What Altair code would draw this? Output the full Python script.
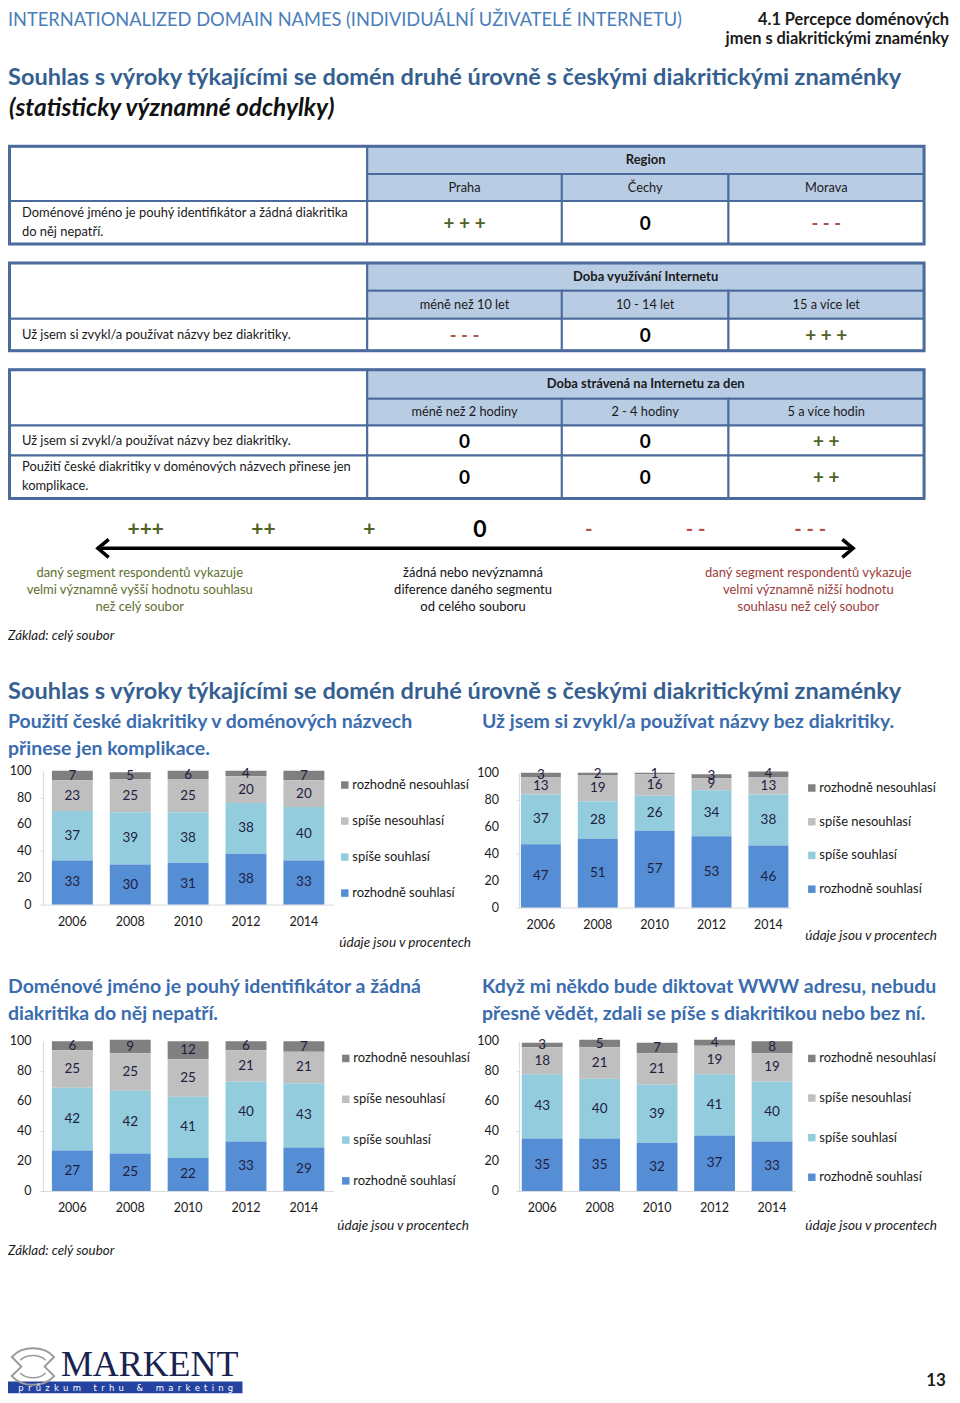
import altair as alt
import pandas as pd

FONT = "Lato"
TITLE_BLUE = "#365f91"
SUB_BLUE = "#3a6cae"
HEAD_BLUE = "#4a7ebb"
GREEN = "#4f6228"
RED = "#b4504a"
NOTE_GREEN = "#5e6f2f"
NOTE_RED = "#9b3d3a"
GRID = "#4a6b9c"
HEAD_FILL = "#b8cce4"

# ---------------- data ----------------
page_header = "INTERNATIONALIZED DOMAIN NAMES (INDIVIDUÁLNÍ UŽIVATELÉ INTERNETU)"
chapter = ["4.1 Percepce doménových", "jmen s diakritickými znaménky"]
main_title = "Souhlas s výroky týkajícími se domén druhé úrovně s českými diakritickými znaménky"
sub_title = "(statisticky významné odchylky)"
base_note = "Základ: celý soubor"
unit_note = "údaje jsou v procentech"
page_number = "13"

t1_group = "Region"
t1_columns = ["Praha", "Čechy", "Morava"]
t1_rows = [["Doménové jméno je pouhý identifikátor a žádná diakritika", "do něj nepatří."]]
t1_values = [["+ + +", "0", "- - -"]]

t2_group = "Doba využívání Internetu"
t2_columns = ["méně než 10 let", "10 - 14 let", "15 a více let"]
t2_rows = [["Už jsem si zvykl/a používat názvy bez diakritiky."]]
t2_values = [["- - -", "0", "+ + +"]]

t3_group = "Doba strávená na Internetu za den"
t3_columns = ["méně než 2 hodiny", "2 - 4 hodiny", "5 a více hodin"]
t3_rows = [["Už jsem si zvykl/a používat názvy bez diakritiky."],
           ["Použití české diakritiky v doménových názvech přinese jen", "komplikace."]]
t3_values = [["0", "0", "+ +"], ["0", "0", "+ +"]]

scale_symbols = ["+++", "++", "+", "0", "-", "- -", "- - -"]
scale_note_plus = ["daný segment respondentů vykazuje", "velmi významně vyšší hodnotu souhlasu", "než celý soubor"]
scale_note_zero = ["žádná nebo nevýznamná", "diference daného segmentu", "od celého souboru"]
scale_note_minus = ["daný segment respondentů vykazuje", "velmi významně nižší hodnotu", "souhlasu než celý soubor"]

years = ["2006", "2008", "2010", "2012", "2014"]
answers = ["rozhodně nesouhlasí", "spíše nesouhlasí", "spíše souhlasí", "rozhodně souhlasí"]
answer_colors = ["#808080", "#bfbfbf", "#93cddd", "#558ed5"]
y_ticks = [0, 20, 40, 60, 80, 100]

q1_title = ["Použití české diakritiky v doménových názvech", "přinese jen komplikace."]
q1_rozhodne_nesouhlasi = [7, 5, 6, 4, 7]
q1_spise_nesouhlasi = [23, 25, 25, 20, 20]
q1_spise_souhlasi = [37, 39, 38, 38, 40]
q1_rozhodne_souhlasi = [33, 30, 31, 38, 33]

q2_title = ["Už jsem si zvykl/a používat názvy bez diakritiky."]
q2_rozhodne_nesouhlasi = [3, 2, 1, 3, 4]
q2_spise_nesouhlasi = [13, 19, 16, 9, 13]
q2_spise_souhlasi = [37, 28, 26, 34, 38]
q2_rozhodne_souhlasi = [47, 51, 57, 53, 46]

q3_title = ["Doménové jméno je pouhý identifikátor a žádná", "diakritika do něj nepatří."]
q3_rozhodne_nesouhlasi = [6, 9, 12, 6, 7]
q3_spise_nesouhlasi = [25, 25, 25, 21, 21]
q3_spise_souhlasi = [42, 42, 41, 40, 43]
q3_rozhodne_souhlasi = [27, 25, 22, 33, 29]

q4_title = ["Když mi někdo bude diktovat WWW adresu, nebudu",
            "přesně vědět, zdali se píše s diakritikou nebo bez ní."]
q4_rozhodne_nesouhlasi = [3, 5, 7, 4, 8]
q4_spise_nesouhlasi = [18, 21, 21, 19, 19]
q4_spise_souhlasi = [43, 40, 39, 41, 40]
q4_rozhodne_souhlasi = [35, 35, 32, 37, 33]

logo_name = "MARKENT"
logo_tag = "průzkum trhu & marketing"


# ---------------- layout helpers (page pixel canvas) ----------------
def T(x, y, text, size=12, color="#1a1a1a", weight="normal", style="normal", align="left", font=FONT,
      clip=True):
    return dict(x=x, y=y, text=text, size=size, color=color, weight=weight, style=style, align=align,
                font=font, clip=clip)


def canvas(y0, y1, texts, rects=(), borders=(), rules=(), symbols=()):
    X = alt.X("x:Q", scale=alt.Scale(domain=[8, 952], nice=False, zero=False), axis=None)
    Y = alt.Y("y:Q", scale=alt.Scale(domain=[y0, y1], nice=False, zero=False, reverse=True), axis=None)
    layers = []
    if rects:
        layers.append(alt.Chart(pd.DataFrame(list(rects))).mark_rect(clip=True).encode(
            x=X, x2=alt.X2("x2:Q"), y=Y, y2=alt.Y2("y2:Q"),
            fill=alt.Fill("fill:N", scale=None), stroke=alt.Stroke("stroke:N", scale=None),
            strokeWidth=alt.StrokeWidth("sw:Q", scale=None)))
    if borders:
        layers.append(alt.Chart(pd.DataFrame(list(borders))).mark_rect(
            fillOpacity=0, stroke=GRID, strokeWidth=3, clip=True).encode(
            x=X, x2=alt.X2("x2:Q"), y=Y, y2=alt.Y2("y2:Q")))
    for r in rules:
        layers.append(alt.Chart(pd.DataFrame([r])).mark_rule(
            strokeWidth=r["w"], color=r["color"]).encode(x=X, x2=alt.X2("x2:Q"), y=Y))
    for s in symbols:
        layers.append(alt.Chart(pd.DataFrame([s])).mark_point(
            shape=s["shape"], size=s["size"], filled=False, stroke=s["color"],
            strokeWidth=s["w"], opacity=1, clip=True).encode(x=X, y=Y))
    groups = {}
    for t in texts:
        key = (t["size"], t["color"], t["weight"], t["style"], t["align"], t["font"], t["clip"])
        groups.setdefault(key, []).append(t)
    for key, ts in groups.items():
        size, color, weight, style, align, font, clip = key
        df = pd.DataFrame([{"x": t["x"], "y": t["y"], "t": t["text"]} for t in ts])
        layers.append(alt.Chart(df).mark_text(
            fontSize=size, color=color, fontWeight=weight, fontStyle=style, align=align,
            baseline="middle", font=font, clip=clip).encode(x=X, y=Y, text="t:N"))
    return alt.layer(*layers).properties(width=944, height=y1 - y0)


TABLE_COLS = [9.5, 368, 563, 730, 926]


def value_style(v):
    if "+" in v:
        return dict(size=19, color=GREEN, weight="bold")
    if "-" in v:
        return dict(size=18.5, color=RED, weight="bold")
    return dict(size=19, color="#000000", weight="bold")


def table(top, h1, h2, row_bottoms, group, columns, rows, values):
    C = TABLE_COLS
    rects, texts = [], []
    cell = lambda x, x2, y, y2, fill: dict(x=x, x2=x2, y=y, y2=y2, fill=fill, stroke=GRID, sw=2)
    rects.append(cell(C[0], C[1], top, h2, "#ffffff"))
    rects.append(cell(C[1], C[4], top, h1, HEAD_FILL))
    for i in range(3):
        rects.append(cell(C[i + 1], C[i + 2], h1, h2, HEAD_FILL))
    texts.append(T((C[1] + C[4]) / 2, (top + h1) / 2, group, size=13, weight="bold", align="center"))
    for i, c in enumerate(columns):
        texts.append(T((C[i + 1] + C[i + 2]) / 2, (h1 + h2) / 2, c, size=12.8, align="center"))
    prev = h2
    for r, rb in enumerate(row_bottoms):
        for i in range(4):
            rects.append(cell(C[i], C[i + 1], prev, rb, "#ffffff"))
        mid = (prev + rb) / 2
        lines = rows[r]
        for k, line in enumerate(lines):
            texts.append(T(22, mid + (k - (len(lines) - 1) / 2) * 19, line, size=12.95))
        for i, v in enumerate(values[r]):
            texts.append(T((C[i + 1] + C[i + 2]) / 2, mid + 1, v, align="center", **value_style(v)))
        prev = rb
    borders = [dict(x=C[0], x2=C[4], y=top, y2=row_bottoms[-1])]
    return rects, borders, texts


# ---------------- canvas A : header, tables, scale legend, section titles ----------------
textsA = [
    T(8, 19.5, page_header, size=18.3, color=HEAD_BLUE, clip=False),
    T(951, 18.5, chapter[0], size=16.4, weight="bold", align="right", clip=False),
    T(951, 37.5, chapter[1], size=16.4, weight="bold", align="right", clip=False),
    T(8, 77, main_title, size=23.6, weight="bold", color=TITLE_BLUE),
    T(9, 108, sub_title, size=24.5, weight="bold", style="italic", color="#111111"),
]
rectsA, bordersA = [], []
for spec in [(145, 173, 200, [243], t1_group, t1_columns, t1_rows, t1_values),
             (262, 290, 318, [350], t2_group, t2_columns, t2_rows, t2_values),
             (369, 398, 425, [455, 498], t3_group, t3_columns, t3_rows, t3_values)]:
    r_, b_, t_ = table(*spec)
    rectsA += r_
    bordersA += b_
    textsA += t_

sym_x = [146, 264, 370, 481, 590, 697, 812]
for sx, s in zip(sym_x, scale_symbols):
    if "+" in s:
        textsA.append(T(sx, 530, s, size=21, color=GREEN, weight="bold", align="center"))
    elif "-" in s:
        textsA.append(T(sx, 530, s, size=20, color=RED, weight="bold", align="center"))
    else:
        textsA.append(T(sx, 530, s, size=23, color="#000000", weight="bold", align="center"))
for k in range(3):
    textsA.append(T(140, 573 + 17 * k, scale_note_plus[k], size=13, color=NOTE_GREEN, align="center"))
    textsA.append(T(474, 573 + 17 * k, scale_note_zero[k], size=13, color="#111111", align="center"))
    textsA.append(T(810, 573 + 17 * k, scale_note_minus[k], size=13, color=NOTE_RED, align="center"))
textsA.append(T(8, 636, base_note, size=13.4, style="italic"))

textsA.append(T(8, 692, main_title, size=23.6, weight="bold", color=TITLE_BLUE))
textsA.append(T(8, 722, q1_title[0], size=19.5, weight="bold", color=SUB_BLUE))
textsA.append(T(8, 749, q1_title[1], size=19.5, weight="bold", color=SUB_BLUE))
textsA.append(T(483, 722, q2_title[0], size=19.5, weight="bold", color=SUB_BLUE))

arrow_rules = [dict(x=101, x2=852, y=548, w=3.5, color="#000000")]
arrow_heads = [
    dict(x=103.5, y=548, shape="M0.6,-1L-0.6,0L0.6,1", size=324, color="#000000", w=3.5),
    dict(x=849.5, y=548, shape="M-0.6,-1L0.6,0L-0.6,1", size=324, color="#000000", w=3.5),
]

canvasA = canvas(8, 764, textsA, rectsA, bordersA, arrow_rules, arrow_heads)


# ---------------- stacked bar charts ----------------
def bar_chart(series, width, height, x_range, y_range, y_label_gap,
              legend_x, legend_y, row_pad, note_x, note_y):
    recs = []
    for ai, ans in enumerate(answers):
        for yi, yr in enumerate(years):
            recs.append({"year": yr, "answer": ans, "value": series[ai][yi],
                         "rank": len(answers) - 1 - ai})
    df = pd.DataFrame(recs)
    x_axis = alt.Axis(labelAngle=0, ticks=False, domainColor="#d9d9d9", labelFont=FONT,
                      labelFontSize=12.5, labelColor="#1a1a1a", labelPadding=11,
                      offset=-(height - y_range[0]))
    y_axis = alt.Axis(values=y_ticks, grid=False, domainColor="#d9d9d9", labels=False,
                      tickColor="#d9d9d9", tickSize=3, offset=-x_range[0])
    xs = alt.Scale(paddingInner=x_range[2], paddingOuter=x_range[3], range=[x_range[0], x_range[1]])
    ys = alt.Scale(domain=[0, 100], nice=False, range=[y_range[0], y_range[1]])
    bars = alt.Chart(df).mark_bar().encode(
        x=alt.X("year:N", title=None, sort=years, scale=xs, axis=x_axis),
        y=alt.Y("value:Q", stack="zero", title=None, scale=ys, axis=y_axis),
        color=alt.Color("answer:N", scale=alt.Scale(domain=answers, range=answer_colors),
                        legend=alt.Legend(title=None, orient="none", legendX=legend_x, legendY=legend_y,
                                          symbolType="square", symbolSize=56, symbolStrokeWidth=0,
                                          labelFont=FONT, labelFontSize=13, labelColor="#1a1a1a",
                                          rowPadding=row_pad, labelOffset=1, padding=0)),
        order=alt.Order("rank:Q", sort="ascending"),
    )
    labels = alt.Chart(df).transform_stack(
        stack="value", groupby=["year"], sort=[alt.SortField("rank", order="ascending")],
        as_=["v0", "v1"]
    ).transform_calculate(mid="(datum.v0 + datum.v1) / 2").mark_text(
        font=FONT, fontSize=13.5, color="#1f2040", baseline="middle"
    ).encode(
        x=alt.X("year:N", title=None, sort=years),
        y=alt.Y("mid:Q", title=None),
        text="value:Q",
    )
    tick_labels = alt.Chart(pd.DataFrame({"tick": y_ticks})).mark_text(
        align="right", baseline="middle", font=FONT, fontSize=12.5, color="#1a1a1a"
    ).encode(x=alt.value(x_range[0] - y_label_gap), y=alt.Y("tick:Q", title=None), text="tick:Q")
    note = alt.Chart(pd.DataFrame({"t": [unit_note]})).mark_text(
        align="right", baseline="middle", fontStyle="italic", fontSize=13.6, font=FONT, color="#1a1a1a"
    ).encode(x=alt.value(note_x), y=alt.value(note_y), text="t:N")
    return alt.layer(bars, labels, tick_labels, note).properties(width=width, height=height)


q1 = [q1_rozhodne_nesouhlasi, q1_spise_nesouhlasi, q1_spise_souhlasi, q1_rozhodne_souhlasi]
q2 = [q2_rozhodne_nesouhlasi, q2_spise_nesouhlasi, q2_spise_souhlasi, q2_rozhodne_souhlasi]
q3 = [q3_rozhodne_nesouhlasi, q3_spise_nesouhlasi, q3_spise_souhlasi, q3_rozhodne_souhlasi]
q4 = [q4_rozhodne_nesouhlasi, q4_spise_nesouhlasi, q4_spise_souhlasi, q4_rozhodne_souhlasi]

# row B occupies page y 764..951, row C page y 1035..1234 ; left column from page x 8, right from 478
c1 = bar_chart(q1, 470, 187, (35, 326, 0.293, 0.155), (141, 7), 11.5, 331, 14.7, 22.1, 464, 180)
c2 = bar_chart(q2, 474, 187, (40, 312, 0.298, 0.035), (144, 9), 20, 327, 17.7, 19.8, 459, 173)
c3 = bar_chart(q3, 470, 199, (35, 326, 0.293, 0.155), (157, 7), 11.5, 332, 17.7, 26.9, 462, 192)
c4 = bar_chart(q4, 474, 199, (40, 317, 0.29, 0.05), (157, 7), 20, 327, 17.7, 25.7, 459, 192)

rowB = alt.concat(c1, c2, columns=2, spacing=0, align="none").resolve_scale(
    color="independent").resolve_legend(color="independent")
rowC = alt.concat(c3, c4, columns=2, spacing=0, align="none").resolve_scale(
    color="independent").resolve_legend(color="independent")

# ---------------- canvas C : titles of the lower charts ----------------
textsC = [
    T(8, 988, q3_title[0], size=19.5, weight="bold", color=SUB_BLUE),
    T(8, 1015, q3_title[1], size=19.5, weight="bold", color=SUB_BLUE),
    T(483, 988, q4_title[0], size=19.5, weight="bold", color=SUB_BLUE),
    T(483, 1015, q4_title[1], size=19.5, weight="bold", color=SUB_BLUE),
]
canvasC = canvas(951, 1035, textsC)

# ---------------- canvas D : footer ----------------
spaced_tag = "\u2002".join(logo_tag).replace("\u2002 \u2002", "\u2003\u2002")
textsD = [
    T(8, 1252, base_note, size=13.4, style="italic"),
    T(61, 1366.5, logo_name, size=36, color="#1a2350", font="Liberation Serif"),
    T(126, 1389.5, spaced_tag, size=8.5, color="#ffffff", align="center", font="DejaVu Sans"),
    T(938, 1382, page_number, size=17, weight="bold", align="center"),
]
rectsD = [dict(x=8, x2=243, y=1383, y2=1395, fill="#2443a0", stroke="#2443a0", sw=0)]
logo_icon = [
    dict(x=33, y=1368, shape="M-1,-0.45C-0.5,-1 0.5,-1 1,-0.45L0.55,0L1,0.45C0.5,1 -0.5,1 -1,0.45L-0.55,0Z",
         size=1800, color="#9a9a9a", w=2),
    dict(x=33, y=1368, shape="M-0.6,-0.3C-0.3,-0.6 0.3,-0.6 0.6,-0.3M-0.6,0.3C-0.3,0.6 0.3,0.6 0.6,0.3",
         size=1800, color="#9a9a9a", w=1.5),
]
canvasD = canvas(1234, 1395, textsD, rects=rectsD, symbols=logo_icon)

chart = alt.concat(canvasA, rowB, canvasC, rowC, canvasD, columns=1, spacing=0, align="none").resolve_scale(
    color="independent").resolve_legend(color="independent").properties(padding=0).configure_view(
    stroke="transparent", strokeWidth=0)

chart.save("out.html", embed_options={"renderer": "svg", "actions": False})
